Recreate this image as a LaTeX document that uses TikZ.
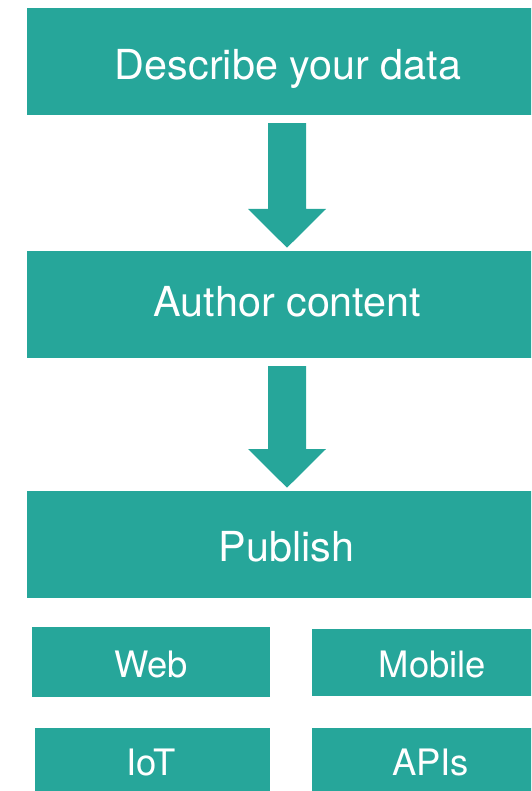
\documentclass[tikz,border=0pt]{standalone}
\usepackage{fontspec}
\setmainfont{TeX Gyre Heros}
\usetikzlibrary{calc}
\newdimen\px \px=0.75pt
\definecolor{tealbox}{RGB}{38,166,154}
\tikzset{
  box/.style={fill=tealbox, draw=none, inner sep=0pt, anchor=north west},
  bigtxt/.style={text=white, inner sep=0pt, anchor=base, font=\fontsize{31}{37}\selectfont},
  smalltxt/.style={text=white, inner sep=0pt, anchor=base, font=\fontsize{27.3}{33}\selectfont},
  blockarrow/.style={fill=tealbox, draw=none}
}
\begin{document}
\begin{tikzpicture}[x=0.75pt,y=-0.75pt]
\useasboundingbox (0,0) rectangle (531,791);
\clip (0,0) rectangle (531,791);
% main boxes
\node[box, minimum width=522\px, minimum height=107\px] (b1) at (27,8) {};
\node[box, minimum width=522\px, minimum height=107\px] (b2) at (27,251) {};
\node[box, minimum width=522\px, minimum height=107\px] (b3) at (27,491) {};
% small boxes
\node[box, minimum width=238\px, minimum height=70\px] (web) at (32,627) {};
\node[box, minimum width=242\px, minimum height=67\px] (mob) at (312,629) {};
\node[box, minimum width=235\px, minimum height=70\px] (iot) at (35,728) {};
\node[box, minimum width=238\px, minimum height=70\px] (api) at (312,728) {};
% texts
\node[bigtxt] (t1) at (288,79.3) {Describe your data};
\node[bigtxt] (t2) at (287.5,316.7) {Author content};
\node[bigtxt] (t3) at (286.5,561.7) {Publish};
\node[smalltxt] (t4) at (151,677.3) {Web};
\node[smalltxt] (t5) at (432.5,677.3) {Mobile};
\node[smalltxt] (t6) at (151,775.5) {IoT};
\node[smalltxt] (t7) at (430.5,775.5) {APIs};
% arrows
\coordinate (a1top) at ($(b1.south west)+(260,7.5)$);
\coordinate (a1tip) at ($(b2.north west)+(260,-3.3)$);
\coordinate (a2top) at ($(b2.south west)+(260,7.5)$);
\coordinate (a2tip) at ($(b3.north west)+(260,-3.3)$);
\foreach \s/\t in {a1top/a1tip, a2top/a2tip}{
  \fill[blockarrow] ($(\s)+(-19,0)$) -- ($(\s)+(19,0)$) -- ($(\t)+(19,-38.7)$)
    -- ($(\t)+(39,-38.7)$) -- (\t) -- ($(\t)+(-39,-38.7)$) -- ($(\t)+(-19,-38.7)$) -- cycle;
}
\end{tikzpicture}
\end{document}
